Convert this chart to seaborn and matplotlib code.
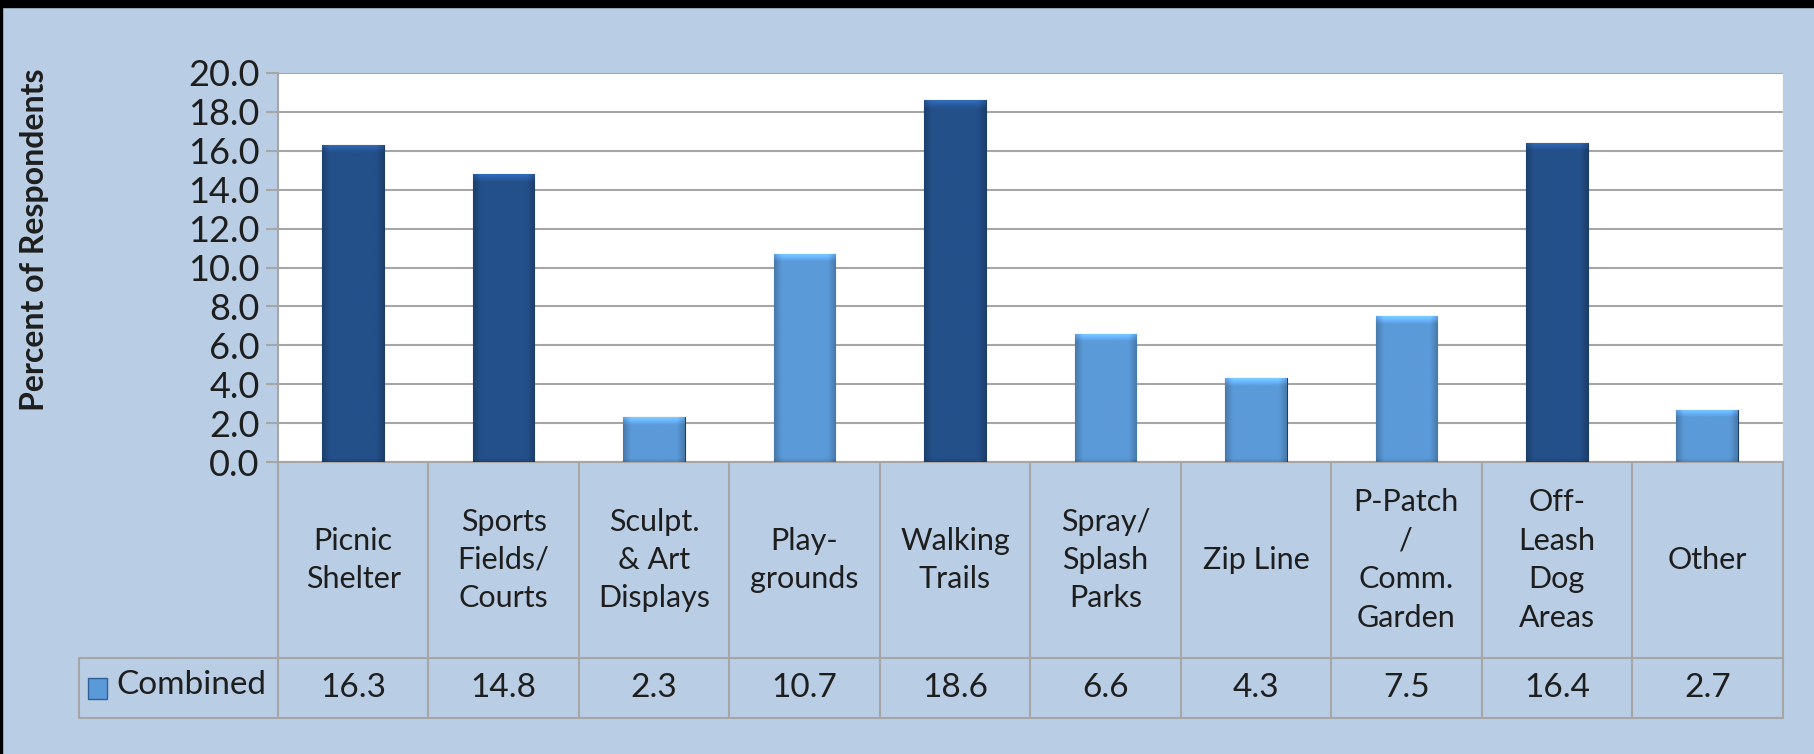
import numpy as np
import pandas as pd
import seaborn as sns
import matplotlib.pyplot as plt
from matplotlib.colors import to_rgb
from matplotlib.transforms import blended_transform_factory

categories = ["Picnic\nShelter", "Sports\nFields/\nCourts", "Sculpt.\n& Art\nDisplays",
              "Play-\ngrounds", "Walking\nTrails", "Spray/\nSplash\nParks", "Zip Line",
              "P-Patch\n/\nComm.\nGarden", "Off-\nLeash\nDog\nAreas", "Other"]
values = [16.3, 14.8, 2.3, 10.7, 18.6, 6.6, 4.3, 7.5, 16.4, 2.7]
series_name = "Combined"
y_ticks = [0, 2, 4, 6, 8, 10, 12, 14, 16, 18, 20]

bg = "#b9cde4"
dark = "#24508a"
light = "#5b9ad9"
grid_c = "#a6a6a6"
txt_c = "#1e1e1e"

sns.set_theme(style="white")
plt.rcParams['font.family'] = ['Lato', 'DejaVu Sans']

df = pd.DataFrame({"cat": categories, "val": values})
colors = {c: (dark if v > 14 else light) for c, v in zip(categories, values)}

fig = plt.figure(figsize=(18.15, 7.54), dpi=100, facecolor=bg)
# black strips along the top and left edges
fig.patches.append(plt.Rectangle((0, 0.991), 1, 0.009, transform=fig.transFigure,
                                 color="black", zorder=0))
fig.patches.append(plt.Rectangle((0, 0), 0.0012, 1, transform=fig.transFigure,
                                 color="black", zorder=0))
ax = fig.add_axes([0.1531, 0.3871, 0.829, 0.5161])
ax.set_facecolor("white")

sns.barplot(data=df, x="cat", y="val", hue="cat", palette=colors, legend=False,
            saturation=1, width=0.41, ax=ax, edgecolor="#1b3d66", linewidth=0.8,
            zorder=3)

# bevel shading on each bar (lighter top band, darker sides and bottom)
for p in list(ax.patches):
    x0, y0, w, h = p.get_x(), p.get_y(), p.get_width(), p.get_height()
    base = np.array(to_rgb(p.get_facecolor()))
    ny, nx = 300, 40
    yy = np.linspace(y0 + h, y0, ny)[:, None]
    xx = np.linspace(0, 1, nx)[None, :]
    side = np.minimum(xx, 1 - xx)
    f = 0.8 + 0.2 * np.clip(side / 0.12, 0, 1)
    depth = (y0 + h) - yy
    f = f * (1 + 0.35 * np.clip(1 - depth / 0.4, 0, 1))
    f = f * (1 - 0.12 * np.clip(1 - (yy - y0) / 0.2, 0, 1))
    img = np.clip(base[None, None, :] * f[:, :, None], 0, 1)
    im = ax.imshow(img, extent=(x0, x0 + w, y0, y0 + h), aspect="auto",
                   zorder=3.5, interpolation="bilinear")
    im.set_clip_path(p)

ax.set_ylim(0, 20)
ax.set_xlim(-0.5, len(categories) - 0.5)
ax.set_yticks(y_ticks)
ax.set_yticklabels([f"{t:.1f}" for t in y_ticks], fontsize=26, color=txt_c)
ax.yaxis.grid(True, color=grid_c, linewidth=1.5, zorder=0)
ax.tick_params(axis="y", left=True, length=9, width=1.5, color=grid_c, pad=4)
ax.set_xticks([])
ax.set_xlabel("")
ax.set_ylabel("Percent of Respondents", fontsize=23, fontweight="bold",
              color=txt_c, labelpad=0)
ax.yaxis.set_label_coords(-0.152, 0.571)
for s in ["top", "right"]:
    ax.spines[s].set_visible(False)
ax.spines["left"].set_color(grid_c)
ax.spines["left"].set_linewidth(1.5)
ax.spines["bottom"].set_color(grid_c)
ax.spines["bottom"].set_linewidth(1.5)

# data table below the axis
tr = blended_transform_factory(ax.transData, ax.transAxes)
n = len(categories)
row1, row2 = -0.503, -0.658
leg_left = -1.823
lkw = dict(color=grid_c, linewidth=1.5, transform=tr, clip_on=False)
for i in range(n + 1):
    ax.plot([i - 0.5, i - 0.5], [0, row2], **lkw)
ax.plot([leg_left, n - 0.5], [row1, row1], **lkw)
ax.plot([leg_left, n - 0.5], [row2, row2], **lkw)
ax.plot([leg_left, leg_left], [row1, row2], **lkw)
ax.plot([n - 0.5, n - 0.5], [0, 1], color="#e6e6e6", linewidth=1, transform=tr)

for i, (c, v) in enumerate(zip(categories, values)):
    ax.text(i, row1 / 2, c, transform=tr, ha="center", va="center", fontsize=22,
            color=txt_c, linespacing=1.45)
    ax.text(i, (row1 + row2) / 2, f"{v:.1f}", transform=tr, ha="center", va="center",
            fontsize=24, color=txt_c)

ax.add_patch(plt.Rectangle((leg_left + 0.06, (row1 + row2) / 2 - 0.027), 0.13, 0.052,
                           transform=tr, facecolor=light, edgecolor="#2e5f99",
                           linewidth=1, clip_on=False))
ax.text(leg_left + 0.25, (row1 + row2) / 2 + 0.008, series_name, transform=tr,
        ha="left", va="center", fontsize=24, color=txt_c)

fig.savefig("out.png", dpi=100, facecolor=bg)
